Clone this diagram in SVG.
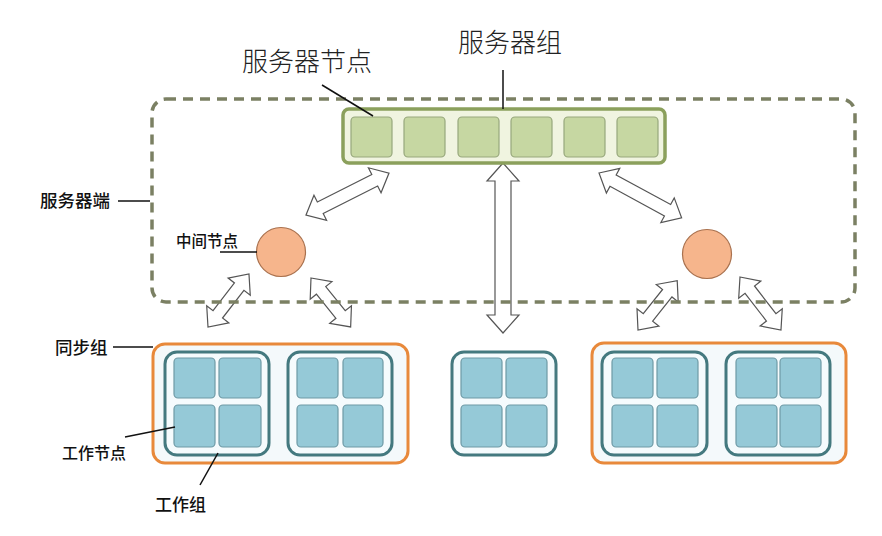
<svg xmlns="http://www.w3.org/2000/svg" width="882" height="536" viewBox="0 0 882 536">
<style>
.lbl{font-family:"Noto Sans CJK SC","Liberation Sans",sans-serif;fill:#111}
.big{font-size:26px;font-weight:300;fill:#222}
.sm{font-weight:500}
.lead{stroke:#111;stroke-width:1.5;fill:none}
.arr{fill:#fff;stroke:#555;stroke-width:1.2;stroke-linejoin:miter}
.snode{fill:#c6d7a2;stroke:#97a77c;stroke-width:1.2}
.wnode{fill:#95c9d7;stroke:#6e9aa6;stroke-width:1.2}
.wgrp{fill:#f5fbfd;stroke:#44797f;stroke-width:3}
.sync{fill:#f4f9fb;stroke:#e8893b;stroke-width:3}
.mid{fill:#f6b58c;stroke:#a9714e;stroke-width:1.2}
</style>
<rect width="882" height="536" fill="#fff"/>

<g id="connectors">
  <path class="arr" transform="translate(306,215) rotate(-26.8)" d="M0,0 L16,-14 L16,-6.5 L77,-6.5 L77,-14 L93,0 L77,14 L77,6.5 L16,6.5 L16,14 Z"/>
  <path class="arr" transform="translate(599,173) rotate(28.5)" d="M0,0 L16,-14 L16,-6.5 L78,-6.5 L78,-14 L94,0 L78,14 L78,6.5 L16,6.5 L16,14 Z"/>
  <path class="arr" transform="translate(503,163) rotate(90)" d="M0,0 L18,-16 L18,-8 L152,-8 L152,-16 L170,0 L152,16 L152,8 L18,8 L18,16 Z"/>
  <path class="arr" transform="translate(208,327) rotate(-52.3)" d="M0,0 L16,-14 L16,-6 L51,-6 L51,-14 L67,0 L51,14 L51,6 L16,6 L16,14 Z"/>
  <path class="arr" transform="translate(311,278) rotate(51)" d="M0,0 L16,-14 L16,-6 L47,-6 L47,-14 L63,0 L47,14 L47,6 L16,6 L16,14 Z"/>
  <path class="arr" transform="translate(638,330) rotate(-51.5)" d="M0,0 L16,-14 L16,-6 L47,-6 L47,-14 L63,0 L47,14 L47,6 L16,6 L16,14 Z"/>
  <path class="arr" transform="translate(740,277) rotate(52.3)" d="M0,0 L16,-14 L16,-6 L51,-6 L51,-14 L67,0 L51,14 L51,6 L16,6 L16,14 Z"/>
</g>

<g id="server-side">
  <rect x="152" y="99" width="703" height="203" rx="14" fill="none" stroke="#7b8063" stroke-width="3.5" stroke-dasharray="10 7"/>
</g>

<g id="server-group">
  <rect x="343" y="109" width="322" height="54" rx="6" fill="#f0f4e0" stroke="#8ba05c" stroke-width="3.5"/>
  <rect class="snode" x="351" y="117" width="41" height="40" rx="4"/>
  <rect class="snode" x="404" y="117" width="41" height="40" rx="4"/>
  <rect class="snode" x="458" y="117" width="41" height="40" rx="4"/>
  <rect class="snode" x="511" y="117" width="41" height="40" rx="4"/>
  <rect class="snode" x="564" y="117" width="41" height="40" rx="4"/>
  <rect class="snode" x="617" y="117" width="41" height="40" rx="4"/>
</g>

<g id="mid-node-left"><circle class="mid" cx="281" cy="252" r="24.5"/></g>
<g id="mid-node-right"><circle class="mid" cx="707" cy="254" r="24.5"/></g>

<g id="sync-left">
  <rect class="sync" x="153" y="344" width="255" height="119" rx="12"/>
  <rect class="wgrp" x="165" y="352" width="104" height="103" rx="12"/>
  <rect class="wnode" x="174" y="358" width="41" height="40" rx="4"/>
  <rect class="wnode" x="219" y="358" width="42" height="40" rx="4"/>
  <rect class="wnode" x="174" y="405" width="41" height="42" rx="4"/>
  <rect class="wnode" x="219" y="405" width="42" height="42" rx="4"/>
  <rect class="wgrp" x="288" y="352" width="104" height="103" rx="12"/>
  <rect class="wnode" x="297" y="358" width="41" height="40" rx="4"/>
  <rect class="wnode" x="343" y="358" width="40" height="40" rx="4"/>
  <rect class="wnode" x="297" y="405" width="41" height="42" rx="4"/>
  <rect class="wnode" x="343" y="405" width="40" height="42" rx="4"/>
</g>

<g id="work-group-mid">
  <rect class="wgrp" x="452" y="352" width="104" height="103" rx="12"/>
  <rect class="wnode" x="461" y="358" width="41" height="40" rx="4"/>
  <rect class="wnode" x="506" y="358" width="41" height="40" rx="4"/>
  <rect class="wnode" x="461" y="405" width="41" height="42" rx="4"/>
  <rect class="wnode" x="506" y="405" width="41" height="42" rx="4"/>
</g>

<g id="sync-right">
  <rect class="sync" x="592" y="343" width="254" height="120" rx="12"/>
  <rect class="wgrp" x="602" y="352" width="105" height="103" rx="12"/>
  <rect class="wnode" x="612" y="358" width="41" height="40" rx="4"/>
  <rect class="wnode" x="657" y="358" width="41" height="40" rx="4"/>
  <rect class="wnode" x="612" y="405" width="41" height="42" rx="4"/>
  <rect class="wnode" x="657" y="405" width="41" height="42" rx="4"/>
  <rect class="wgrp" x="726" y="352" width="104" height="103" rx="12"/>
  <rect class="wnode" x="736" y="358" width="41" height="40" rx="4"/>
  <rect class="wnode" x="780" y="358" width="41" height="40" rx="4"/>
  <rect class="wnode" x="736" y="405" width="41" height="42" rx="4"/>
  <rect class="wnode" x="780" y="405" width="41" height="42" rx="4"/>
</g>

<g id="labels">
  <text class="lbl big" x="242" y="71">服务器节点</text>
  <line class="lead" x1="322" y1="85" x2="373" y2="116"/>
  <text class="lbl big" x="458" y="52">服务器组</text>
  <line class="lead" x1="503" y1="70" x2="503" y2="109"/>
  <text class="lbl sm" x="40" y="207" font-size="17.5">服务器端</text>
  <line class="lead" x1="118" y1="201" x2="150" y2="201"/>
  <text class="lbl sm" x="176" y="247" font-size="15.5">中间节点</text>
  <line class="lead" x1="220" y1="252" x2="257" y2="252"/>
  <text class="lbl sm" x="55" y="354" font-size="17.5">同步组</text>
  <line class="lead" x1="113" y1="347" x2="153" y2="347"/>
  <text class="lbl sm" x="62" y="459" font-size="16">工作节点</text>
  <line class="lead" x1="125" y1="437" x2="175" y2="427"/>
  <text class="lbl sm" x="155" y="511" font-size="17">工作组</text>
  <line class="lead" x1="200" y1="485" x2="218" y2="453"/>
</g>
</svg>
